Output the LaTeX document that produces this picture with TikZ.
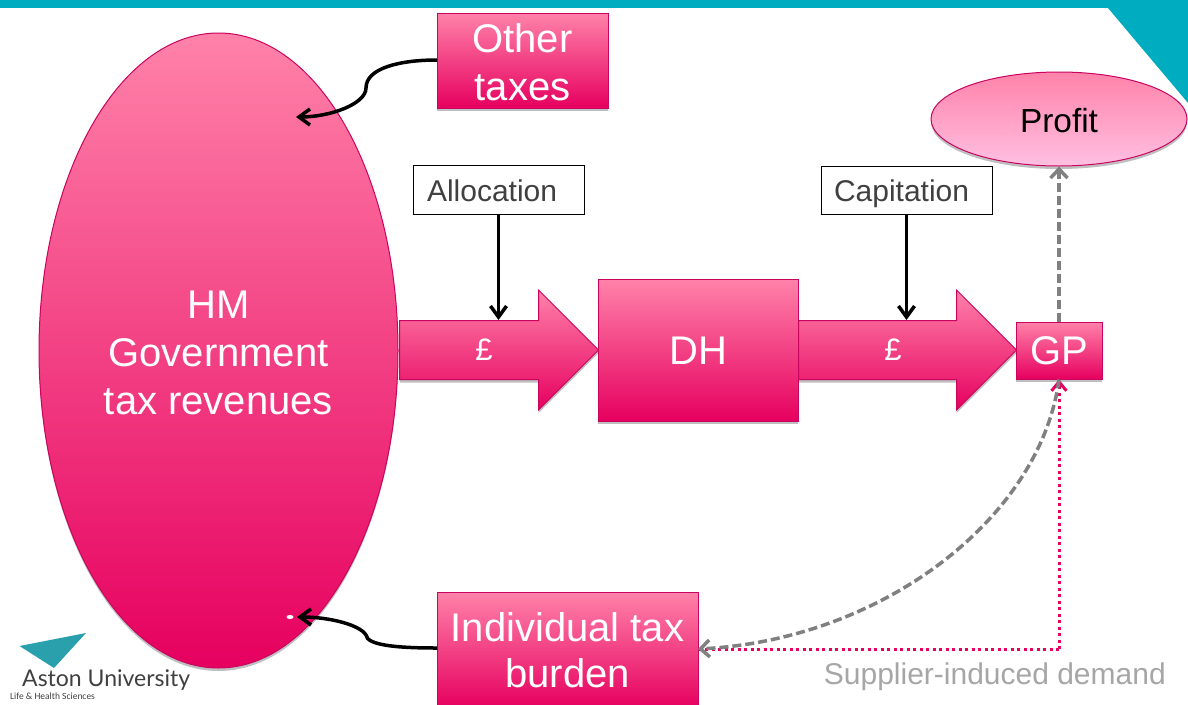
\documentclass[tikz,border=0pt]{standalone}
\usepackage{fontspec}
\setmainfont{Liberation Sans}
\newfontfamily\logofont{Lato}
\newfontfamily\smalllogofont{Carlito}
\usetikzlibrary{arrows.meta}
\usetikzlibrary{positioning}
\usetikzlibrary{shapes.geometric}
\usetikzlibrary{shapes.arrows}
\usetikzlibrary{shadows}
\definecolor{pinktop}{HTML}{FF82A9}
\definecolor{pinkbottom}{HTML}{E6005F}
\definecolor{pinkline}{HTML}{C9045F}
\definecolor{palepink}{HTML}{FFC0E2}
\definecolor{banner}{HTML}{00ACBF}
\definecolor{logoteal}{HTML}{2AA0AD}
\definecolor{dashgrey}{HTML}{808080}
\definecolor{labelgrey}{HTML}{A6A6A6}
\definecolor{boxtext}{HTML}{404040}
\tikzset{
	softshadow/.style={drop shadow={shadow xshift=0pt, shadow yshift=-3pt, opacity=.25, fill=black}},
	pinkfill/.style={draw=pinkline, line width=1pt, top color=pinktop, bottom color=pinkbottom, softshadow},
	pinkbox/.style={rectangle, pinkfill, inner sep=0pt, text=white, align=center, font=\fontsize{40}{48}\selectfont},
	moneyarrow/.style={single arrow, pinkfill, inner xsep=0pt, inner ysep=29pt, single arrow head extend=30.5pt, shape border rotate=0},
	poundsign/.style={text=white, inner sep=0pt, font=\fontsize{31}{36}\selectfont},
	notebox/.style={rectangle, draw=black, line width=1pt, fill=white, inner ysep=0pt, text=boxtext, text height=23pt, text depth=0pt, font=\fontsize{30}{34}\selectfont},
	blackline/.style={draw=black, line width=3.5pt, -{Straight Barb[length=11pt, width=16pt]}},
	greydash/.style={draw=dashgrey, line width=3.5pt, dash pattern=on 9pt off 4pt, -{Straight Barb[length=9pt, width=17pt]}},
	reddots/.style={draw=pinkbottom, line width=3pt, dash pattern=on 3pt off 3.5pt},
}
\begin{document}
\begin{tikzpicture}[x=1pt, y=-1pt]
	\useasboundingbox (0,0) rectangle (1188,704);

	% slide furniture
	\fill[banner] (0,0) rectangle (1188,8);
	\fill[banner] (1108,8) -- (1188,103) -- (1188,0) -- cycle;
	\fill[logoteal] (19.5,646) -- (86,633) -- (54,668) -- cycle;
	\node (aston) [anchor=west, inner sep=0pt, text=boxtext, font=\logofont\fontsize{23}{27}\selectfont] at (22,680) {Aston University};
	\node (life) [anchor=west, inner sep=0pt, text=boxtext, font=\smalllogofont\fontsize{9.5}{12}\selectfont] at (10,696) {Life \& Health Sciences};

	\node (gov) [ellipse, pinkfill, inner sep=0pt, minimum width=359pt, minimum height=635pt, text=white, align=center, text height=128pt, text depth=0pt, font=\fontsize{40}{48}\selectfont] at (218.5,350.5) {HM\\Government\\tax revenues};
	\node (dot) [ellipse, fill=white, inner sep=0pt, minimum width=7pt, minimum height=4pt] at (290,617) {};

	\node (other) [pinkbox, minimum width=171pt, minimum height=95pt, text height=79pt, text depth=0pt] at (522.5,60.5) {Other\\taxes};
	\node (dh) [pinkbox, minimum width=200pt, minimum height=142pt, text height=28pt, text depth=0pt] at (698,350) {DH};
	\node (gp) [pinkbox, minimum width=86pt, minimum height=57pt, text height=28pt, text depth=0pt] at (1059,350.5) {GP};
	\node (burden) [pinkbox, minimum width=261pt, minimum height=116pt, text height=75pt, text depth=0pt] at (567.5,650) {Individual tax\\[-2pt]burden};

	\node (profit) [ellipse, pinkfill, bottom color=palepink, inner sep=0pt, minimum width=256pt, minimum height=94pt, text height=26pt, text depth=0pt, font=\fontsize{33.4}{40}\selectfont] at (1059,119) {Profit};

	\node (fund) [moneyarrow, minimum height=199pt, anchor=tail] at (399,350) {};
	\node (pay) [moneyarrow, minimum height=218pt, anchor=tail] at (798,350) {};
	\node (fund sign) [poundsign] at (484,350) {£};
	\node (pay sign) [poundsign] at (893,350) {£};

	\node (allocation) [notebox, minimum width=171pt, minimum height=49pt, inner xsep=14pt, text width=143pt] at (498.5,189.5) {Allocation};
	\node (capitation) [notebox, minimum width=171pt, minimum height=48pt, inner xsep=13pt, text width=145pt] at (906.5,190) {Capitation};

	\node (supplier) [anchor=east, inner sep=0pt, text=labelgrey, font=\fontsize{30}{36}\selectfont] at (1166,677) {Supplier-induced demand};

	\coordinate (dotted corner) at (1059,649);
	\coordinate (burden in) at (698,649);
	\coordinate (other bend) at (366,88);
	\coordinate (other end) at (296,117);
	\coordinate (burden bend) at (366,635);
	\coordinate (burden out) at (437,648);
	\coordinate (other out) at (437,60);
	\coordinate (burden end) at (297,617);

	\draw[blackline] (allocation.south) -- (allocation.south|-fund.north);
	\draw[blackline] (capitation.south) -- (capitation.south|-pay.north);
	\draw[blackline] (other out) .. controls (400,60) and (366,68) .. (other bend) .. controls (366,104) and (330,117) .. (other end);
	\draw[blackline] (burden out) .. controls (395,648) and (367,645) .. (burden bend) .. controls (360,625) and (330,617) .. (burden end);

	\draw[reddots] (dotted corner) -- (burden in);
	\draw[reddots, -{Straight Barb[length=9pt, width=15pt]}] (dotted corner) -- (gp.south);
	\draw[greydash] (gp.south) .. controls (1040,520) and (880,640) .. (burden in);
	\draw[greydash] (gp.north) -- (profit.south);
\end{tikzpicture}
\end{document}
